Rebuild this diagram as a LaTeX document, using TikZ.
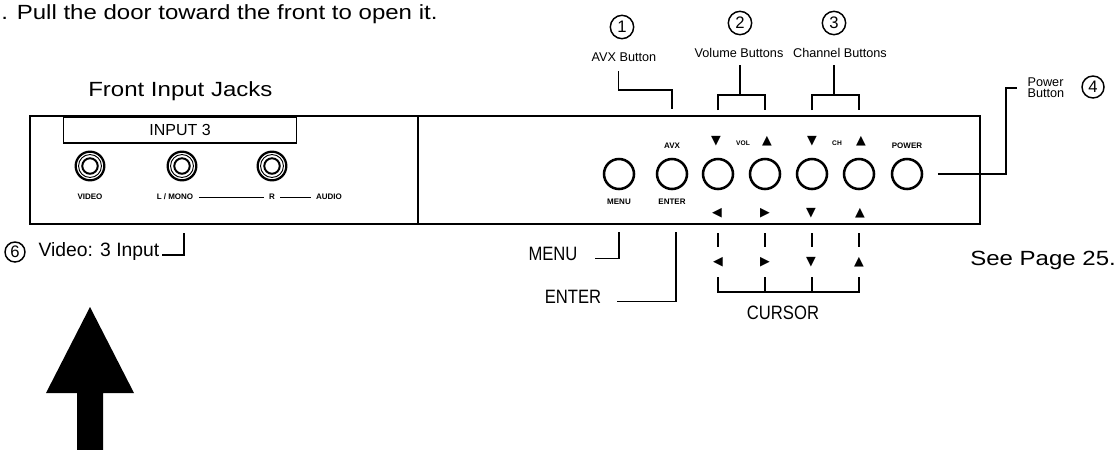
\documentclass[tikz,border=0pt]{standalone}
\usepackage{fontspec}
\setmainfont{Liberation Sans}
\newfontfamily\bodyfont{Liberation Sans}[FakeStretch=1.17]
\newfontfamily\narrowfont{Liberation Sans}[FakeStretch=0.86]
\newfontfamily\symfont{DejaVu Sans}
\usetikzlibrary{positioning,calc}
\tikzset{
  bodytext/.style={font=\bodyfont\fontsize{15.4}{18}\selectfont, inner sep=0pt},
  calltext/.style={font=\fontsize{9.5}{10}\selectfont, inner sep=1pt},
  keytext/.style={font=\narrowfont\fontsize{14.5}{16}\selectfont, inner sep=1pt},
  paneltext/.style={font=\bfseries\fontsize{6}{6}\selectfont, inner sep=1pt},
  tri/.style={font=\symfont\fontsize{9.5}{9.5}\selectfont, inner sep=0pt},
  numcirc/.style={circle, draw, line width=1.1pt, minimum size=17.5pt, inner sep=0pt,
    font=\fontsize{12.5}{12.5}\selectfont},
  knob/.style={circle, draw, line width=1.9pt, minimum size=22.5pt, inner sep=0pt},
  jack/.style={circle, draw, line width=1.7pt, minimum size=21.5pt, inner sep=0pt},
  lead/.style={line width=0.9pt},
  panel/.style={line width=1.4pt},
}
\begin{document}
\begin{tikzpicture}[x=0.75pt, y=-0.75pt]
  \useasboundingbox (0,0) rectangle (1115,450);

  \node[bodytext, anchor=base west] (pull) at (1,19.5) {. Pull the door toward the front to open it.};
  \node[bodytext, anchor=base west] (fij) at (88,96.5) {Front Input Jacks};

  \draw[panel] (30,116) rectangle (980,224);
  \draw[panel] (418,116) -- (418,224);

  \node[draw, line width=1.1pt, minimum width=175pt, minimum height=19.5pt,
    font=\fontsize{12}{12}\selectfont] (inbox) at (180,130) {INPUT 3};

  \foreach \x/\n in {90/jv, 182/jl, 272/jr} {
    \node[jack] (\n) at (\x,166) {};
    \draw[line width=0.7pt] (\n.center) circle[radius=8.6pt];
    \draw[line width=1.5pt] (\n.center) circle[radius=5.8pt];
  }
  \node[paneltext] (lvid) at (90,197) {VIDEO};
  \node[paneltext] (lmono) at (175,197) {L / MONO};
  \node[paneltext] (lr) at (272,197) {R};
  \node[paneltext] (laud) at (329,197) {AUDIO};
  \draw[line width=0.6pt] ([xshift=3pt]lmono.east) -- ([xshift=-3pt]lr.west);
  \draw[line width=0.6pt] ([xshift=3pt]lr.east) -- ([xshift=-3pt]laud.west);

  \foreach \x/\n in {619/kmenu, 672/kavx, 718/kvd, 765/kvu, 812/kcd, 859/kcu, 907/kpow}
    \node[knob] (\n) at (\x,174) {};

  \node[paneltext, above=6pt of kavx] (tavx) {AVX};
  \node[paneltext, above=6pt of kpow] (tpow) {POWER};
  \node[tri] (avd) at (716,141.5) {▼};
  \node[paneltext, font=\bfseries\fontsize{5}{5}\selectfont] (tvl) at (743,143.5) {VOL};
  \node[tri] (avu) at (767,141.5) {▲};
  \node[tri] (acd) at (812,141.5) {▼};
  \node[paneltext, font=\bfseries\fontsize{5}{5}\selectfont] (tch) at (837,143.5) {CH};
  \node[tri] (acu) at (861,141.5) {▲};

  \node[paneltext, below=5pt of kmenu] (tmenu) {MENU};
  \node[paneltext, below=5pt of kavx] (tenter) {ENTER};
  \node[tri] (bl) at (717,213.5) {◀};
  \node[tri] (br) at (765,213.5) {▶};
  \node[tri] (bd) at (811,213.5) {▼};
  \node[tri] (bu) at (860,213.5) {▲};

  % callouts above the panel
  \node[numcirc] (c1) at (622,27) {1};
  \node[calltext] (cavx) at (624,57) {AVX Button};
  \draw[lead] ([shift={(-4pt,-6pt)}]cavx.south) |- (kavx |- 0,90) -- (kavx |- 0,109);

  \node[numcirc] (c2) at (740,23) {2};
  \node[calltext] (cvol) at (739,53) {Volume Buttons};
  \draw[lead] (c2 |- 0,65) -- (c2 |- 0,95);
  \draw[lead] (kvd |- 0,110) |- (kvu |- 0,95) -- (kvu |- 0,110);

  \node[numcirc] (c3) at (834,23) {3};
  \node[calltext] (cch) at (840,53) {Channel Buttons};
  \draw[lead] (c3 |- 0,65) -- (c3 |- 0,95);
  \draw[lead] (kcd |- 0,110) |- (kcu |- 0,95) -- (kcu |- 0,110);

  \node[calltext, align=left, anchor=west, font=\fontsize{9.5}{8.3}\selectfont] (cpow) at (1026,88) {Power\\Button};
  \node[numcirc, minimum size=16.5pt] (c4) at (1093,87) {4};
  \draw[lead] ([xshift=11pt]kpow.east) -| ([xshift=-15pt]cpow.west) -- ([xshift=-7pt]cpow.west);

  % callouts below the panel
  \node[numcirc, minimum size=15pt] (c6) at (15,252) {6};
  \node[keytext, font=\fontsize{14.5}{16}\selectfont, anchor=west] (cvid) at (37,251) {Video: 3 Input};
  \draw[lead] ([shift={(1pt,-3pt)}]cvid.east) -| (184,233);

  \node[keytext] (kmtxt) at (553,254) {MENU};
  \draw[lead] ([shift={(12pt,-3.5pt)}]kmtxt.east) -| (kmenu |- 0,232);
  \node[keytext] (ketxt) at (573,297) {ENTER};
  \draw[lead] ([shift={(11pt,-3.5pt)}]ketxt.east) -| (676,232);

  \foreach \n in {kvd,kvu,kcd,kcu}
    \draw[lead] (\n |- 0,233) -- (\n |- 0,247);
  \node[tri] (cl) at (718,262) {◀};
  \node[tri] (cr) at (765,262) {▶};
  \node[tri] (cd) at (811,262) {▼};
  \node[tri] (cu) at (859,262) {▲};
  \draw[lead] (kvd |- 0,277) |- (kcu |- 0,292) -- (kcu |- 0,277);
  \draw[lead] (kvu |- 0,277) -- (kvu |- 0,292);
  \draw[lead] (kcd |- 0,277) -- (kcd |- 0,292);
  \node[keytext] (cursor) at (783,313) {CURSOR};

  \node[bodytext, anchor=base west] (page) at (970,265.5) {See Page 25.};

  \fill (90,307) -- (134,393) -- (103,393) -- (103,450) -- (77,450) -- (77,393) -- (46,393) -- cycle;
\end{tikzpicture}
\end{document}
